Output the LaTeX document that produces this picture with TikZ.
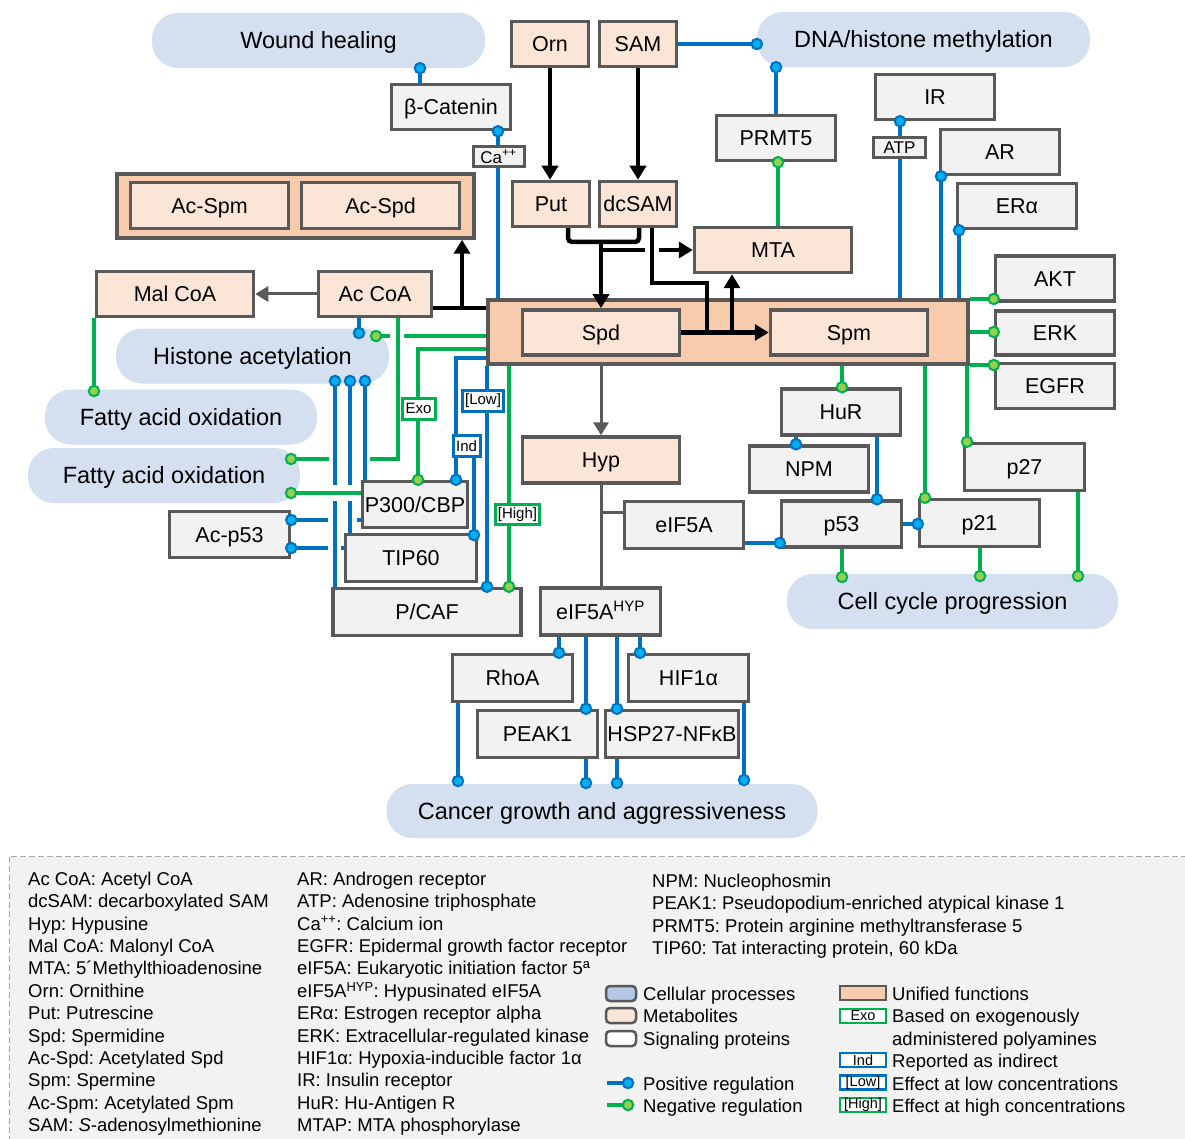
\documentclass[tikz,border=0pt]{standalone}
\usepackage{fontspec}
\setmainfont{Liberation Sans}
\usetikzlibrary{arrows.meta}
\frenchspacing
\definecolor{procfill}{RGB}{212,223,240}
\definecolor{procleg}{RGB}{180,199,231}
\definecolor{metfill}{RGB}{251,229,214}
\definecolor{unifill}{RGB}{248,203,173}
\definecolor{sigfill}{RGB}{242,242,242}
\definecolor{boxgray}{RGB}{89,89,89}
\definecolor{lblue}{RGB}{0,112,192}
\definecolor{dblue}{RGB}{0,176,240}
\definecolor{lgreen}{RGB}{0,176,80}
\definecolor{dgreen}{RGB}{146,208,80}
\definecolor{legframe}{RGB}{166,166,166}
\definecolor{legfill}{RGB}{242,242,242}
\tikzset{
 proc/.style={fill=procfill, rounded corners=26pt, inner sep=0pt, text height=16.8pt, text depth=0pt, font=\fontsize{23.5}{26}\selectfont},
 boxbase/.style={draw=boxgray, line width=3.5pt, inner sep=0pt, text height=15.4pt, text depth=0pt, font=\fontsize{21.5}{24}\selectfont},
 metab/.style={boxbase, fill=metfill, minimum width=157, minimum height=45},
 sig/.style={boxbase, fill=sigfill, minimum width=119, minimum height=45},
 uni/.style={draw=boxgray, line width=3.5pt, fill=unifill, inner sep=0pt},
 tagbox/.style={draw=boxgray, line width=3pt, fill=sigfill, inner sep=0pt, minimum width=51, minimum height=20, text height=12.2pt, text depth=0pt, font=\fontsize{17}{19}\selectfont},
 lblbox/.style={line width=3pt, fill=white, inner sep=0pt, minimum height=21, font=\fontsize{15}{17}\selectfont},
 bline/.style={draw=lblue, line width=3.5pt},
 gline/.style={draw=lgreen, line width=3.5pt},
 bdot/.style={circle, draw=lblue, fill=dblue, line width=2pt, inner sep=0pt, minimum size=10.5pt},
 gdot/.style={circle, draw=lgreen, fill=dgreen, line width=2pt, inner sep=0pt, minimum size=10.5pt},
 kline/.style={draw=black, line width=4.5pt},
 karrow/.style={kline, -{Triangle[length=14pt,width=16pt]}},
 grayline/.style={draw=boxgray, line width=3pt},
 garrow/.style={grayline, -{Triangle[length=13pt,width=15pt]}},
 legtext/.style={anchor=base west, inner sep=0pt, font=\fontsize{18.5}{22}\selectfont},
 swatch/.style={draw=boxgray, line width=2.5pt},
}
\begin{document}
\begin{tikzpicture}[x=1pt,y=-1pt]
\useasboundingbox (0,0) rectangle (1185,1139);

% ---------- legend frame ----------
\draw[draw=legframe, line width=1.5pt, dash pattern=on 6pt off 3pt, fill=legfill] (9.5,856.5) rectangle (1200,1150);

% ---------- cellular processes ----------
\node[proc, minimum width=333, minimum height=55] (wound) at (318.5,40.5) {Wound healing};
\node[proc, minimum width=333, minimum height=55] (dna) at (923.5,39.5) {DNA/histone methylation};
\node[proc, minimum width=273, minimum height=55] (hist) at (252.5,356) {Histone acetylation};
\node[proc, minimum width=272, minimum height=55] (fao1) at (181,417) {Fatty acid oxidation};
\node[proc, minimum width=272, minimum height=55] (fao2) at (164,475.5) {Fatty acid oxidation};
\node[proc, minimum width=331, minimum height=55] (cell) at (952.5,601.5) {Cell cycle progression};
\node[proc, minimum width=431, minimum height=54] (cancer) at (602,811) {Cancer growth and aggressiveness};

% ---------- unified boxes ----------
\node[uni, minimum width=480, minimum height=64] (unified) at (728,332) {};
\node[uni, minimum width=357, minimum height=64] (acgroup) at (295.5,206) {};

% ---------- metabolites ----------
\node[metab, minimum width=77] (orn) at (550,44) {Orn};
\node[metab, minimum width=77] (sam) at (638,44) {SAM};
\node[metab, minimum width=77] (put) at (551,204) {Put};
\node[metab, minimum width=77] (dcsam) at (638,204) {dcSAM};
\node[metab] (mta) at (773,250) {MTA};
\node[metab, minimum width=158, minimum height=46] (acspm) at (209.5,205.5) {Ac-Spm};
\node[metab, minimum width=158, minimum height=46] (acspd) at (380.5,205.5) {Ac-Spd};
\node[metab] (malcoa) at (175,294) {Mal CoA};
\node[metab, minimum width=113] (accoa) at (375,294) {Ac CoA};
\node[metab] (spd) at (601,332.5) {Spd};
\node[metab] (spm) at (849,332.5) {Spm};
\node[metab, minimum height=46] (hyp) at (601,460) {Hyp};

% ---------- signaling proteins ----------
\node[sig] (bcat) at (451,107) {β-Catenin};
\node[sig] (prmt5) at (776,138) {PRMT5};
\node[sig] (ir) at (935,97) {IR};
\node[sig] (ar) at (1000,152) {AR};
\node[sig] (era) at (1017,206) {ERα};
\node[sig] (akt) at (1055,278.5) {AKT};
\node[sig, minimum height=44] (erk) at (1055,333) {ERK};
\node[sig] (egfr) at (1055,386) {EGFR};
\node[sig, minimum height=46] (hur) at (841,412) {HuR};
\node[sig, minimum height=46] (npm) at (809,469) {NPM};
\node[sig, minimum width=120, minimum height=46] (p53) at (841.5,524) {p53};
\node[sig, minimum width=120, minimum height=47] (p21) at (979.5,523) {p21};
\node[sig, minimum width=120, minimum height=47] (p27) at (1024.5,467) {p27};
\node[sig, minimum height=47] (eif5a) at (684,525) {eIF5A};
\node[sig, minimum width=120, minimum height=47] (eif5ahyp) at (600.5,611.5) {eIF5A\textsuperscript{HYP}};
\node[sig, minimum width=120, minimum height=47] (rhoa) at (512.5,678) {RhoA};
\node[sig, minimum width=120, minimum height=47] (hif) at (688.5,678) {HIF1α};
\node[sig, minimum width=120, minimum height=47] (peak1) at (537.5,734) {PEAK1};
\node[sig, minimum width=133, minimum height=47] (hsp) at (672,734) {HSP27-NFκB};
\node[sig, minimum width=120, minimum height=46] (acp53) at (229.5,534.5) {Ac-p53};
\node[sig, minimum width=105, minimum height=46] (p300) at (415,504.5) {P300/CBP};
\node[sig, minimum width=131, minimum height=47] (tip60) at (411,558) {TIP60};
\node[sig, minimum width=188, minimum height=47] (pcaf) at (427,612) {P/CAF};

% ---------- black / gray metabolic arrows ----------
\draw[karrow] (orn.south) -- (orn.south |- put.north);
\draw[karrow] (sam.south) -- (sam.south |- dcsam.north);
\draw[kline, rounded corners=4pt] (568,0 |- put.south) -- (568,242) -- (639,242) -- (639,0 |- dcsam.south);
\draw[karrow] (601,242) -- (601,0 |- spd.north);
\draw[kline] (601,250) -- (645,250);
\draw[karrow] (659,250) -- (mta.west);
\draw[kline] (652,0 |- dcsam.south) -- (652,283) -- (707,283) -- (707,332.5);
\draw[karrow] (spd.east) -- (spm.west);
\draw[karrow] (732,332.5) -- (732,0 |- mta.south);
\draw[kline] (accoa.east |- 0,308) -- (unified.west |- 0,308);
\draw[karrow] (462,308) -- (462,0 |- acgroup.south);
\draw[garrow] (accoa.west) -- (malcoa.east);
\draw[garrow] (601,0 |- unified.south) -- (hyp.north);
\draw[grayline] (hyp.south) -- (601,0 |- eif5ahyp.north);
\draw[grayline] (601,512) -- (eif5a.west |- 0,512);

% ---------- top regulation ----------
\draw[bline] (sam.east) -- (sam.east -| dna.west) node[bdot]{};
\draw[bline] (prmt5.north) -- (prmt5.north |- dna.south) node[bdot]{};
\draw[gline] (778,0 |- mta.north) -- (778,0 |- prmt5.south) node[gdot]{};
\draw[bline] (420,0 |- bcat.north) -- (420,0 |- wound.south) node[bdot]{};
\draw[bline] (498,0 |- unified.north) -- (498,0 |- bcat.south) node[bdot]{};
\draw[bline] (900,0 |- unified.north) -- (900,0 |- ir.south) node[bdot]{};
\draw[bline] (941,0 |- unified.north) -- (941,0 |- ar.south) node[bdot]{};
\draw[bline] (959,0 |- unified.north) -- (959,0 |- era.south) node[bdot]{};

% ---------- right regulation ----------
\draw[gline] (unified.east |- 0,299) -- (akt.west |- 0,299) node[gdot]{};
\draw[gline] (unified.east |- 0,332) -- (erk.west |- 0,332) node[gdot]{};
\draw[gline] (unified.east |- 0,365) -- (egfr.west |- 0,365) node[gdot]{};
\draw[gline] (967,0 |- unified.south) -- (967,0 |- p27.north) node[gdot]{};
\draw[gline] (925,0 |- unified.south) -- (925,0 |- p21.north) node[gdot]{};
\draw[gline] (842,0 |- unified.south) -- (842,0 |- hur.north) node[gdot]{};
\draw[bline] (796,0 |- hur.south) -- (796,0 |- npm.north) node[bdot]{};
\draw[bline] (877,0 |- hur.south) -- (877,0 |- p53.north) node[bdot]{};
\draw[bline] (p53.east) -- (p53.east -| p21.west) node[bdot]{};
\draw[bline] (eif5a.east |- 0,543) -- (p53.west |- 0,543) node[bdot]{};
\draw[gline] (842,0 |- p53.south) -- (842,577) node[gdot]{};
\draw[gline] (980,0 |- p21.south) -- (980,576) node[gdot]{};
\draw[gline] (1078,0 |- p27.south) -- (1078,576) node[gdot]{};

% ---------- eIF5A-HYP targets ----------
\draw[bline] (559,0 |- eif5ahyp.south) -- (559,0 |- rhoa.north) node[bdot]{};
\draw[bline] (586,0 |- eif5ahyp.south) -- (586,0 |- peak1.north) node[bdot]{};
\draw[bline] (617,0 |- eif5ahyp.south) -- (617,0 |- hsp.north) node[bdot]{};
\draw[bline] (640,0 |- eif5ahyp.south) -- (640,0 |- hif.north) node[bdot]{};
\draw[bline] (458,0 |- rhoa.south) -- (458,781) node[bdot]{};
\draw[bline] (586,0 |- peak1.south) -- (586,783) node[bdot]{};
\draw[bline] (617,0 |- hsp.south) -- (617,783) node[bdot]{};
\draw[bline] (744,0 |- hif.south) -- (744,780) node[bdot]{};

% ---------- left regulation ----------
\draw[gline] (malcoa.south -| 94,0) -- (94,391) node[gdot]{};
\draw[bline] (359,0 |- accoa.south) -- (359,333) node[bdot]{};
\draw[gline] (unified.west |- 0,336) -- (404,336);
\draw[gline] (390,336) -- (376,336) node[gdot]{};
\draw[gline] (398,0 |- accoa.south) -- (398,459) -- (370,459);
\draw[gline] (329,459) -- (291,459) node[gdot]{};
\draw[gline] (unified.west |- 0,349) -- (418,349) -- (418,0 |- p300.north) node[gdot]{};
\draw[bline] (unified.west |- 0,358) -- (456,358) -- (456,0 |- p300.north) node[bdot]{};
\draw[bline] (474,446) -- (474,535) node[bdot]{};
\draw[bline] (487,0 |- unified.south) -- (487,0 |- pcaf.north) node[bdot]{};
\draw[gline] (509,0 |- unified.south) -- (509,0 |- pcaf.north) node[gdot]{};
% HATs -> histone acetylation
\draw[bline] (335,0 |- pcaf.north) -- (335,501);
\draw[bline] (335,485) -- (335,381) node[bdot]{};
\draw[bline] (350,0 |- tip60.north) -- (350,501);
\draw[bline] (350,485) -- (350,381) node[bdot]{};
\draw[bline] (365,0 |- p300.north) -- (365,381) node[bdot]{};
% P300/CBP -| fatty acid oxidation
\draw[gline] (p300.west |- 0,493) -- (291,493) node[gdot]{};
% Ac-p53
\draw[bline] (p300.west |- 0,520) -- (357,520);
\draw[bline] (328,520) -- (acp53.east |- 0,520) node[bdot]{};
\draw[bline] (tip60.west |- 0,548) -- (341,548);
\draw[bline] (328,548) -- (acp53.east |- 0,548) node[bdot]{};

% ---------- small tags and labels ----------
\node[tagbox] (ca) at (498.5,157) {Ca\textsuperscript{++}};
\node[tagbox, minimum width=52] (atp) at (899.5,147.5) {ATP};
\node[lblbox, draw=lgreen, minimum width=33] (exo) at (418.5,408.5) {Exo};
\node[lblbox, draw=lblue, minimum width=27] (ind) at (466.5,446) {Ind};
\node[lblbox, draw=lblue, minimum width=41] (low) at (483,401) {[Low]};
\node[lblbox, draw=lgreen, minimum width=44, minimum height=20] (high) at (517.5,514.5) {[High]};

% ---------- legend: abbreviations ----------
\foreach \t [count=\i from 0] in {{Ac CoA: Acetyl CoA},{dcSAM: decarboxylated SAM},{Hyp: Hypusine},{Mal CoA: Malonyl CoA},{MTA: 5´Methylthioadenosine},{Orn: Ornithine},{Put: Putrescine},{Spd: Spermidine},{Ac-Spd: Acetylated Spd},{Spm: Spermine},{Ac-Spm: Acetylated Spm},{SAM: \textit{S}-adenosylmethionine}}
  \node[legtext] (la\i) at (28,{885.5+22.36*\i}) {\t};
\foreach \t [count=\i from 0] in {{AR: Androgen receptor},{ATP: Adenosine triphosphate},{Ca\textsuperscript{++}: Calcium ion},{EGFR: Epidermal growth factor receptor},{eIF5A: Eukaryotic initiation factor 5ª},{eIF5A\textsuperscript{HYP}: Hypusinated eIF5A},{ERα: Estrogen receptor alpha},{ERK: Extracellular-regulated kinase},{HIF1α: Hypoxia-inducible factor 1α},{IR: Insulin receptor},{HuR: Hu-Antigen R},{MTAP: MTA phosphorylase}}
  \node[legtext] (lb\i) at (297,{885.5+22.36*\i}) {\t};
\foreach \t [count=\i from 0] in {{NPM: Nucleophosmin},{PEAK1: Pseudopodium-enriched atypical kinase 1},{PRMT5: Protein arginine methyltransferase 5},{TIP60: Tat interacting protein, 60 kDa}}
  \node[legtext] (lc\i) at (652,{887.5+22.36*\i}) {\t};

% ---------- legend: symbols ----------
\node[swatch, fill=procleg, rounded corners=4pt, minimum width=30, minimum height=15, inner sep=0pt] (sw1) at (621,993.5) {};
\node[swatch, fill=metfill, rounded corners=4pt, minimum width=30, minimum height=15, inner sep=0pt] (sw2) at (621,1015.5) {};
\node[swatch, fill=white, rounded corners=4pt, minimum width=30, minimum height=15, inner sep=0pt] (sw3) at (621,1038.5) {};
\node[legtext] (st1) at (643,1000) {Cellular processes};
\node[legtext] (st2) at (643,1022.5) {Metabolites};
\node[legtext] (st3) at (643,1045) {Signaling proteins};
\coordinate (pl) at (607,1083);
\coordinate (nl) at (607,1105);
\draw[bline] (pl) -- ++(21,0) node[bdot]{};
\draw[gline] (nl) -- ++(21,0) node[gdot]{};
\node[legtext] (st4) at (643,1090) {Positive regulation};
\node[legtext] (st5) at (643,1112) {Negative regulation};

\node[swatch, fill=unifill, minimum width=46, minimum height=14, inner sep=0pt] (sw4) at (863,993) {};
\node[lblbox, draw=lgreen, line width=2.5pt, minimum width=46, minimum height=14, font=\fontsize{14.5}{16}\selectfont] (sw5) at (863,1016) {Exo};
\node[lblbox, draw=lblue, line width=2.5pt, minimum width=46, minimum height=14, font=\fontsize{14.5}{16}\selectfont] (sw6) at (863,1060) {Ind};
\node[lblbox, draw=lblue, line width=2.5pt, minimum width=46, minimum height=14, font=\fontsize{14.5}{16}\selectfont] (sw7) at (863,1082.5) {[Low]};
\node[lblbox, draw=lgreen, line width=2.5pt, minimum width=46, minimum height=14, font=\fontsize{14.5}{16}\selectfont] (sw8) at (863,1105) {[High]};
\node[legtext] (rt1) at (892,1000) {Unified functions};
\node[legtext] (rt2) at (892,1022.5) {Based on exogenously};
\node[legtext] (rt3) at (892,1045) {administered polyamines};
\node[legtext] (rt4) at (892,1067.5) {Reported as indirect};
\node[legtext] (rt5) at (892,1090) {Effect at low concentrations};
\node[legtext] (rt6) at (892,1112) {Effect at high concentrations};
\end{tikzpicture}
\end{document}
